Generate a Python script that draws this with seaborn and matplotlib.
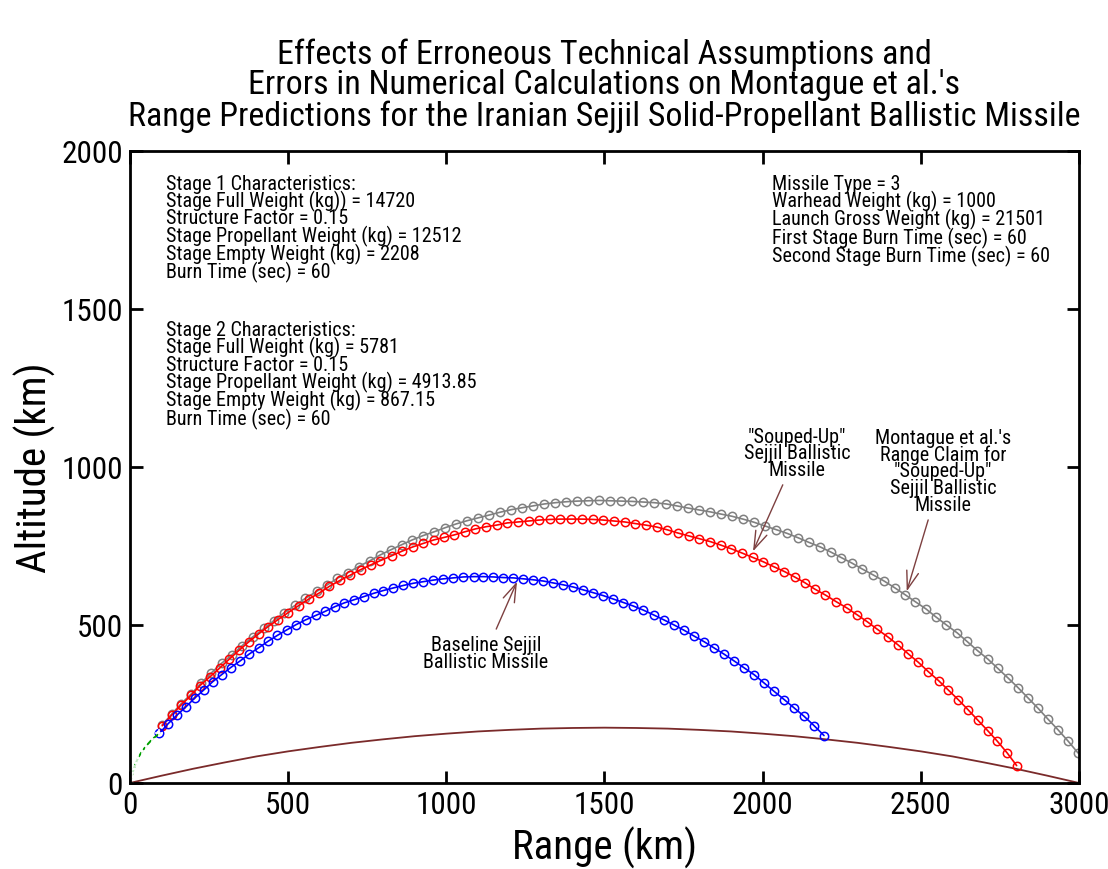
import matplotlib
matplotlib.use("Agg")
import matplotlib.pyplot as plt
import seaborn as sns

# boost phase (green)
boost_x = [0, 3, 5, 8, 12, 18, 26, 38, 52, 70, 93]
boost_y = [0, 8, 18, 30, 45, 62, 80, 100, 118, 138, 157]

# baseline Sejjil (blue)
base_x = [93, 121, 150, 177, 204, 233, 261, 290, 318, 348, 377, 407, 436, 466, 495, 525, 555, 587,
          617, 648, 678, 709, 740, 770, 801, 832, 864, 896, 927, 959, 991, 1022, 1054, 1086, 1117,
          1149, 1180, 1212, 1244, 1275, 1307, 1338, 1370, 1402, 1433, 1465, 1496, 1528, 1560, 1591,
          1623, 1655, 1688, 1720, 1752, 1783, 1815, 1847, 1879, 1910, 1942, 1974, 2005, 2036, 2068,
          2099, 2131, 2163, 2194]
base_y = [157, 188, 216, 241, 268, 294, 320, 343, 365, 386, 408, 428, 448, 467, 484, 501, 516, 530,
          543, 558, 570, 580, 590, 600, 609, 617, 625, 632, 637, 642, 646, 649, 652, 653, 653,
          652, 650, 649, 646, 643, 639, 633, 627, 620, 611, 602, 593, 582, 571, 560,
          547, 532, 516, 500, 483, 465, 447, 427, 407, 386, 364, 342, 316, 290, 264,
          238, 211, 181, 150]

# "souped-up" Sejjil (red)
souped_x = [102, 132, 161, 193, 221, 253, 284, 314, 345, 375, 407, 437, 468, 500, 533, 565, 598, 630,
            664, 697, 729, 761, 790, 827, 861, 894, 927, 960, 993, 1025, 1059, 1092, 1126, 1159, 1193,
            1227, 1260, 1294, 1328, 1361, 1395, 1429, 1463, 1496, 1530, 1564, 1597, 1631, 1665, 1699,
            1732, 1766, 1800, 1834, 1867, 1901, 1934, 1968, 2002, 2036, 2069, 2101, 2133, 2164, 2198,
            2232, 2266, 2299, 2331, 2363, 2396, 2428, 2461, 2492, 2524, 2556, 2587, 2619, 2650, 2680,
            2711, 2742, 2773, 2803]
souped_y = [181, 215, 246, 277, 308, 336, 364, 392, 420, 446, 472, 495, 517, 539, 561, 582, 601, 622,
            641, 658, 675, 690, 703, 719, 734, 747, 758, 769, 777, 785, 795, 804, 811, 816, 823,
            826, 829, 832, 834, 835, 835, 835, 834, 832, 829, 826, 821, 816, 810, 801,
            791, 782, 773, 764, 753, 741, 728, 714, 700, 684, 669, 652, 634, 614, 595,
            574, 554, 532, 510, 486, 462, 437, 408, 382, 352, 324, 294, 263, 231, 199,
            166, 132, 95, 55]

# Montague et al. claim (gray)
claim_x = [102, 132, 161, 194, 224, 256, 290, 323, 355, 389, 424, 455, 488, 522, 554, 590, 624, 656,
           690, 723, 758, 790, 825, 859, 892, 927, 962, 997, 1032, 1066, 1101, 1136, 1171, 1206, 1240,
           1275, 1310, 1345, 1379, 1414, 1449, 1484, 1519, 1553, 1588, 1623, 1658, 1695, 1728, 1764,
           1799, 1834, 1868, 1903, 1938, 1973, 2008, 2042, 2077, 2112, 2147, 2182, 2215, 2249, 2282,
           2315, 2350, 2384, 2417, 2450, 2482, 2516, 2547, 2581, 2615, 2646, 2679, 2712, 2743, 2776,
           2807, 2839, 2871, 2901, 2934, 2966, 2997]
claim_y = [184, 218, 250, 282, 315, 347, 379, 406, 435, 463, 489, 514, 539, 562, 584, 606, 627, 648,
           666, 685, 703, 721, 738, 754, 769, 783, 795, 808, 820, 830, 839, 848, 857, 865, 871,
           877, 883, 887, 890, 892, 893, 894, 893, 892, 891, 889, 887, 883, 877, 870,
           864, 858, 851, 844, 835, 825, 813, 802, 790, 776, 761, 747, 731, 713, 696,
           677, 658, 639, 618, 596, 574, 551, 526, 500, 475, 448, 419, 392, 363, 332,
           302, 269, 236, 203, 168, 132, 95]

# brown reference curve
ref_x = [0, 100, 200, 300, 400, 500, 600, 700, 800, 900, 1000, 1100, 1200, 1300, 1400, 1500,
         1600, 1700, 1800, 1900, 2000, 2100, 2200, 2300, 2400, 2500, 2600, 2700, 2800, 2900, 3000]
ref_y = [0, 23, 45, 65, 84, 100, 114, 127, 138, 148, 156, 163, 168, 172, 174, 175,
         174, 172, 168, 163, 156, 148, 138, 127, 114, 100, 84, 65, 45, 23, 0]

stage1_text = ("Stage 1 Characteristics:\n"
               "Stage Full Weight (kg)) = 14720\n"
               "Structure Factor = 0.15\n"
               "Stage Propellant Weight (kg) = 12512\n"
               "Stage Empty Weight (kg) = 2208\n"
               "Burn Time (sec) = 60")
stage2_text = ("Stage 2 Characteristics:\n"
               "Stage Full Weight (kg) = 5781\n"
               "Structure Factor = 0.15\n"
               "Stage Propellant Weight (kg) = 4913.85\n"
               "Stage Empty Weight (kg) = 867.15\n"
               "Burn Time (sec) = 60")
missile_text = ("Missile Type = 3\n"
                "Warhead Weight (kg) = 1000\n"
                "Launch Gross Weight (kg) = 21501\n"
                "First Stage Burn Time (sec) = 60\n"
                "Second Stage Burn Time (sec) = 60")

sns.set_style("ticks")
plt.rcParams['font.family'] = ['Liberation Sans Narrow', 'Roboto Condensed',
                               'Liberation Sans', 'DejaVu Sans']
plt.rcParams.update({"text.color": "black", "axes.labelcolor": "black",
                     "xtick.color": "black", "ytick.color": "black",
                     "axes.edgecolor": "black"})

fig = plt.figure(figsize=(11.08, 8.70), dpi=100)
ax = fig.add_axes([0.1173, 0.0989, 0.8565, 0.7264])

arrow_col = "#7d4040"

sns.lineplot(x=ref_x, y=ref_y, ax=ax, color="#7a2a2a", lw=1.3, estimator=None, sort=False)
sns.lineplot(x=claim_x, y=claim_y, ax=ax, color="#808080", lw=1.2, marker="o", ms=6,
             mfc="none", mec="#808080", mew=1.1, estimator=None, sort=False)
sns.lineplot(x=souped_x, y=souped_y, ax=ax, color="#ff0000", lw=1.2, marker="o", ms=6,
             mfc="none", mec="#ff0000", mew=1.1, estimator=None, sort=False)
sns.lineplot(x=base_x, y=base_y, ax=ax, color="#0000ff", lw=1.2, marker="o", ms=6,
             mfc="none", mec="#0000ff", mew=1.1, estimator=None, sort=False)
sns.lineplot(x=boost_x, y=boost_y, ax=ax, color="#00a000", lw=1.4, marker="+", ms=6,
             mew=1.1, estimator=None, sort=False)

ax.set_xlim(0, 3000)
ax.set_ylim(0, 2000)
ax.set_xticks(range(0, 3001, 500))
ax.set_yticks(range(0, 2001, 500))
ax.tick_params(direction="in", length=9, width=2, labelsize=22.5, top=True, right=True, pad=5)
for s in ax.spines.values():
    s.set_linewidth(2)
    s.set_visible(True)

ax.set_xlabel("Range (km)", fontsize=29.5, labelpad=5)
ax.set_ylabel("Altitude (km)", fontsize=29.5, labelpad=4)
ax.set_title("Effects of Erroneous Technical Assumptions and\n"
             "Errors in Numerical Calculations on Montague et al.'s\n"
             "Range Predictions for the Iranian Sejjil Solid-Propellant Ballistic Missile",
             fontsize=24.5, linespacing=0.95, pad=19)

info_kw = dict(fontsize=14.5, linespacing=0.83, va="top", ha="left")
ax.text(114, 1928, stage1_text, **info_kw)
ax.text(114, 1465, stage2_text, **info_kw)
ax.text(2030, 1928, missile_text, **info_kw)

ann_kw = dict(fontsize=14.5, linespacing=0.85, ha="center", va="center",
              arrowprops=dict(arrowstyle="->,head_length=0.9,head_width=0.3", color=arrow_col, lw=1))
ax.annotate("Baseline Sejjil\nBallistic Missile", xy=(1227, 645), xytext=(1125, 412), **ann_kw)
ax.annotate("\"Souped-Up\"\nSejjil Ballistic\nMissile", xy=(1966, 725), xytext=(2109, 1045), **ann_kw)
ax.annotate("Montague et al.'s\nRange Claim for\n\"Souped-Up\"\nSejjil Ballistic\nMissile",
            xy=(2453, 598), xytext=(2570, 988), **ann_kw)

fig.savefig("out.png", dpi=100)
